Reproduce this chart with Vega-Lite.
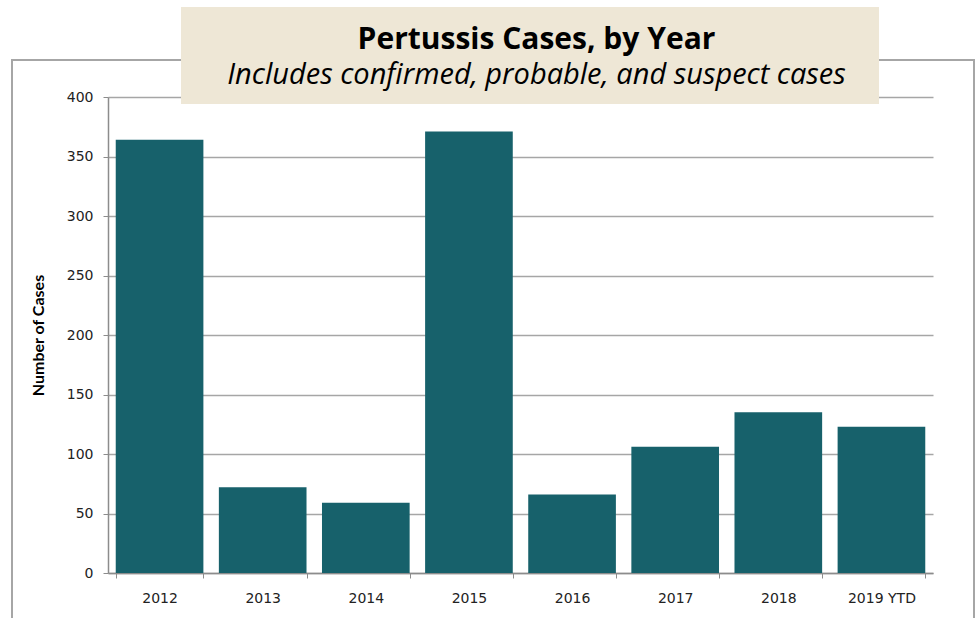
{
  "$schema": "https://vega.github.io/schema/vega-lite/v6.json",
  "autosize": {"type": "none"},
  "width": 825,
  "height": 476,
  "padding": {"left": 108, "top": 97, "right": 44, "bottom": 45},
  "background": "#ffffff",
  "config": {
    "view": {"stroke": null}
  },
  "title": {
    "text": "Pertussis Cases, by Year",
    "subtitle": "Includes confirmed, probable, and suspect cases",
    "font": "Open Sans",
    "fontSize": 30,
    "fontWeight": "bold",
    "color": "#000000",
    "subtitleFont": "Open Sans",
    "subtitleFontSize": 29,
    "subtitleFontStyle": "italic",
    "subtitleColor": "#000000",
    "subtitlePadding": 6,
    "anchor": "middle",
    "frame": "group",
    "dx": 16,
    "dy": 83,
    "offset": 0,
    "zindex": 2
  },
  "data": {
    "values": [
      {"year": "2012", "cases": 364},
      {"year": "2013", "cases": 72},
      {"year": "2014", "cases": 59},
      {"year": "2015", "cases": 371},
      {"year": "2016", "cases": 66},
      {"year": "2017", "cases": 106},
      {"year": "2018", "cases": 135},
      {"year": "2019 YTD", "cases": 123}
    ]
  },
  "layer": [
    {
      "mark": {"type": "rect", "fill": null, "stroke": "#a6a6a6", "strokeWidth": 1.5, "clip": false},
      "encoding": {
        "x": {"value": -96},
        "x2": {"value": 866},
        "y": {"value": -37},
        "y2": {"value": 540}
      }
    },
    {
      "mark": {"type": "rect", "fill": "#eee7d6", "stroke": null, "clip": false},
      "encoding": {
        "x": {"value": 73},
        "x2": {"value": 771},
        "y": {"value": -90},
        "y2": {"value": 7}
      }
    },
    {
      "mark": {"type": "bar", "color": "#17616b"},
      "encoding": {
        "x": {
          "field": "year",
          "type": "nominal",
          "sort": null,
          "scale": {"paddingInner": 0.15, "paddingOuter": 0.075},
          "axis": {
            "title": null,
            "labelAngle": 0,
            "labelFont": "DejaVu Sans",
            "labelFontSize": 14,
            "labelColor": "#222222",
            "labelPadding": 13,
            "tickBand": "extent",
            "tickSize": 5,
            "tickColor": "#8c8c8c",
            "domainColor": "#8c8c8c",
            "domainWidth": 1.5,
            "grid": false
          }
        },
        "y": {
          "field": "cases",
          "type": "quantitative",
          "scale": {"domain": [0, 400], "nice": false},
          "axis": {
            "title": "Number of Cases",
            "titleFont": "Lato",
            "titleFontSize": 16,
            "titleFontWeight": "bold",
            "titleColor": "#000000",
            "titlePadding": 20,
            "values": [0, 50, 100, 150, 200, 250, 300, 350, 400],
            "labelFont": "DejaVu Sans",
            "labelFontSize": 14,
            "labelColor": "#222222",
            "labelPadding": 10,
            "tickSize": 5,
            "tickColor": "#8c8c8c",
            "domainColor": "#8c8c8c",
            "domainWidth": 1.5,
            "grid": true,
            "gridColor": "#a6a6a6",
            "gridWidth": 1.5
          }
        }
      }
    }
  ]
}
